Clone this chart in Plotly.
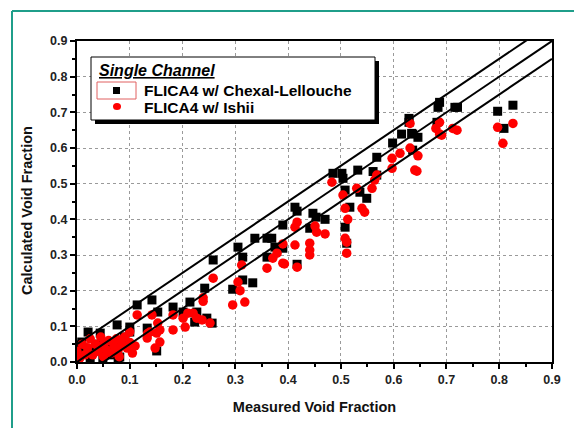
import plotly.graph_objects as go

# FLICA4 with Chexal-Lellouche drift-flux correlation
chexal_measured = [0.006, 0.002, 0.009, 0.021, 0.025, 0.044, 0.049, 0.047, 0.030, 0.015,
                   0.035, 0.055, 0.060, 0.065, 0.070, 0.085, 0.076, 0.078, 0.081, 0.090,
                   0.100, 0.100, 0.114, 0.133, 0.142, 0.153, 0.151, 0.182, 0.201, 0.214,
                   0.223, 0.227, 0.242, 0.246, 0.256, 0.258, 0.295, 0.305, 0.314, 0.314,
                   0.333, 0.337, 0.360, 0.369, 0.360, 0.375, 0.390, 0.390, 0.413, 0.417,
                   0.417, 0.441, 0.447, 0.453, 0.470, 0.485, 0.502, 0.504, 0.508, 0.517,
                   0.508, 0.511, 0.532, 0.536, 0.549, 0.561, 0.568, 0.568, 0.598, 0.615,
                   0.636, 0.646, 0.629, 0.629, 0.634, 0.636, 0.682, 0.687, 0.684, 0.716,
                   0.721, 0.797, 0.826, 0.809]
chexal_calculated = [0.048, 0.020, 0.056, 0.084, 0.006, 0.081, 0.006, 0.045, 0.030, 0.035,
                     0.050, 0.030, 0.055, 0.020, 0.040, 0.050, 0.104, 0.006, 0.014, 0.070,
                     0.098, 0.084, 0.160, 0.095, 0.174, 0.140, 0.031, 0.154, 0.140, 0.168,
                     0.112, 0.140, 0.207, 0.123, 0.109, 0.286, 0.204, 0.322, 0.294, 0.230,
                     0.222, 0.347, 0.347, 0.347, 0.294, 0.322, 0.384, 0.319, 0.434, 0.423,
                     0.274, 0.375, 0.417, 0.406, 0.400, 0.529, 0.529, 0.515, 0.482, 0.434,
                     0.378, 0.333, 0.538, 0.476, 0.459, 0.534, 0.524, 0.574, 0.614, 0.639,
                     0.639, 0.630, 0.683, 0.672, 0.641, 0.594, 0.672, 0.728, 0.714, 0.714,
                     0.714, 0.703, 0.720, 0.655]

# FLICA4 with Ishii drift-flux correlation
ishii_measured = [0.000, 0.005, 0.010, 0.015, 0.020, 0.025, 0.030, 0.035, 0.040, 0.045,
                  0.050, 0.050, 0.055, 0.060, 0.065, 0.070, 0.075, 0.078, 0.080, 0.085,
                  0.090, 0.095, 0.100, 0.100, 0.105, 0.110, 0.114, 0.133, 0.134, 0.138,
                  0.142, 0.148, 0.151, 0.153, 0.157, 0.157, 0.182, 0.182, 0.201, 0.205,
                  0.210, 0.220, 0.227, 0.237, 0.239, 0.239, 0.252, 0.258, 0.295, 0.305,
                  0.309, 0.312, 0.318, 0.360, 0.371, 0.379, 0.390, 0.390, 0.393, 0.413,
                  0.413, 0.417, 0.417, 0.441, 0.441, 0.441, 0.451, 0.454, 0.470, 0.483,
                  0.504, 0.508, 0.513, 0.508, 0.511, 0.511, 0.530, 0.540, 0.545, 0.559,
                  0.564, 0.568, 0.597, 0.597, 0.612, 0.631, 0.640, 0.644, 0.646, 0.631,
                  0.680, 0.687, 0.687, 0.691, 0.712, 0.720, 0.797, 0.826, 0.807]
ishii_calculated = [0.030, 0.010, 0.050, 0.020, 0.040, 0.065, 0.020, 0.050, 0.030, 0.070,
                    0.050, 0.015, 0.035, 0.060, 0.025, 0.045, 0.065, 0.034, 0.015, 0.050,
                    0.070, 0.039, 0.084, 0.055, 0.025, 0.045, 0.132, 0.067, 0.080, 0.084,
                    0.132, 0.039, 0.081, 0.109, 0.056, 0.090, 0.090, 0.132, 0.123, 0.098,
                    0.137, 0.137, 0.123, 0.118, 0.180, 0.170, 0.109, 0.235, 0.160, 0.224,
                    0.200, 0.272, 0.168, 0.263, 0.291, 0.305, 0.277, 0.331, 0.275, 0.328,
                    0.378, 0.392, 0.266, 0.333, 0.314, 0.300, 0.381, 0.364, 0.359, 0.504,
                    0.468, 0.431, 0.400, 0.347, 0.336, 0.305, 0.487, 0.431, 0.420, 0.487,
                    0.510, 0.524, 0.571, 0.543, 0.585, 0.600, 0.538, 0.535, 0.578, 0.669,
                    0.655, 0.672, 0.639, 0.636, 0.655, 0.650, 0.658, 0.669, 0.613]

# Reference lines: perfect agreement and +/- 0.05 bands
band_offsets = [0.05, 0.0, -0.05]
line_x = [0.0, 0.9]

tick_vals = [0.0, 0.1, 0.2, 0.3, 0.4, 0.5, 0.6, 0.7, 0.8, 0.9]
tick_text = ["0.0", "0.1", "0.2", "0.3", "0.4", "0.5", "0.6", "0.7", "0.8", "0.9"]

FONT = "Liberation Sans, Arial, sans-serif"

fig = go.Figure()

fig.add_trace(go.Scatter(
    x=chexal_measured, y=chexal_calculated, mode="markers",
    marker=dict(symbol="square", size=9, color="black", line=dict(width=0)),
    name="FLICA4 w/ Chexal-Lellouche", showlegend=False))

fig.add_trace(go.Scatter(
    x=ishii_measured, y=ishii_calculated, mode="markers",
    marker=dict(symbol="circle", size=9.5, color="#ff0000", line=dict(width=0)),
    name="FLICA4 w/ Ishii", showlegend=False))

for off in band_offsets:
    fig.add_trace(go.Scatter(
        x=line_x, y=[v + off for v in line_x], mode="lines",
        line=dict(color="black", width=2), showlegend=False, hoverinfo="skip"))

# Plot area geometry in pixels (used to place the frame and legend box)
W, H = 574, 428
ML, MR, MT, MB = 77, 22, 41, 66
PW, PH = W - ML - MR, H - MT - MB


def px(x):
    return (x - ML) / PW


def py(y):
    return (H - MB - y) / PH


shapes = []
# Outer teal frame (top and left edges)
shapes.append(dict(type="line", xref="paper", yref="paper",
                   x0=px(12), x1=px(580), y0=py(11), y1=py(11),
                   line=dict(color="#1f9e8a", width=2)))
shapes.append(dict(type="line", xref="paper", yref="paper",
                   x0=px(12), x1=px(12), y0=py(11), y1=py(440),
                   line=dict(color="#1f9e8a", width=2)))

# Legend box with drop shadow
shapes.append(dict(type="rect", xref="paper", yref="paper",
                   x0=px(95), x1=px(379), y0=py(61), y1=py(124),
                   fillcolor="black", line=dict(width=0)))
shapes.append(dict(type="rect", xref="paper", yref="paper",
                   x0=px(91), x1=px(375), y0=py(57), y1=py(120),
                   fillcolor="white", line=dict(color="black", width=1)))
# Highlight box around first legend symbol
shapes.append(dict(type="rect", xref="paper", yref="paper",
                   x0=px(97), x1=px(136), y0=py(82), y1=py(99),
                   fillcolor="rgba(0,0,0,0)", line=dict(color="#e06060", width=1)))
# Legend symbols
shapes.append(dict(type="rect", xref="paper", yref="paper",
                   x0=px(113), x1=px(120), y0=py(87), y1=py(94),
                   fillcolor="black", line=dict(width=0)))
shapes.append(dict(type="circle", xref="paper", yref="paper",
                   x0=px(113), x1=px(121), y0=py(103), y1=py(110),
                   fillcolor="#ff0000", line=dict(width=0)))

annotations = [
    dict(text="<b><i><u>Single Channel</u></i></b>", xref="paper", yref="paper",
         x=px(97), y=py(70), xanchor="left", yanchor="middle", showarrow=False,
         font=dict(family=FONT, size=16, color="black")),
    dict(text="<b>FLICA4 w/ Chexal-Lellouche</b>", xref="paper", yref="paper",
         x=px(142), y=py(90), xanchor="left", yanchor="middle", showarrow=False,
         font=dict(family=FONT, size=15.5, color="black")),
    dict(text="<b>FLICA4 w/ Ishii</b>", xref="paper", yref="paper",
         x=px(142), y=py(107), xanchor="left", yanchor="middle", showarrow=False,
         font=dict(family=FONT, size=15.5, color="black")),
    # Y axis title placed explicitly
    dict(text="<b>Calculated Void Fraction</b>", xref="paper", yref="paper",
         x=px(27), y=py(211), xanchor="center", yanchor="middle", showarrow=False,
         textangle=-90, font=dict(family=FONT, size=14.5, color="#111111")),
]

axis_common = dict(
    range=[0, 0.9], tickvals=tick_vals,
    ticktext=["<b>" + t + "</b>" for t in tick_text],
    showline=True, linecolor="black", linewidth=2, mirror=True,
    ticks="outside", ticklen=5, tickwidth=2, tickcolor="black",
    showgrid=True, gridcolor="#9a9a9a", griddash="dot", gridwidth=1,
    zeroline=False,
    minor=dict(ticks="outside", ticklen=3, tickwidth=2, tickcolor="black",
               dtick=0.05, showgrid=False),
    tickfont=dict(family=FONT, size=12.5, color="#222222"),
)

fig.update_xaxes(**axis_common,
                 title=dict(text="<b>Measured Void Fraction</b>", standoff=16,
                            font=dict(family=FONT, size=14.5, color="#111111")))
fig.update_yaxes(**axis_common)

fig.update_layout(
    width=W, height=H,
    margin=dict(l=ML, r=MR, t=MT, b=MB),
    paper_bgcolor="white", plot_bgcolor="white",
    shapes=shapes, annotations=annotations,
    showlegend=False,
)

fig.write_html("out.html")
